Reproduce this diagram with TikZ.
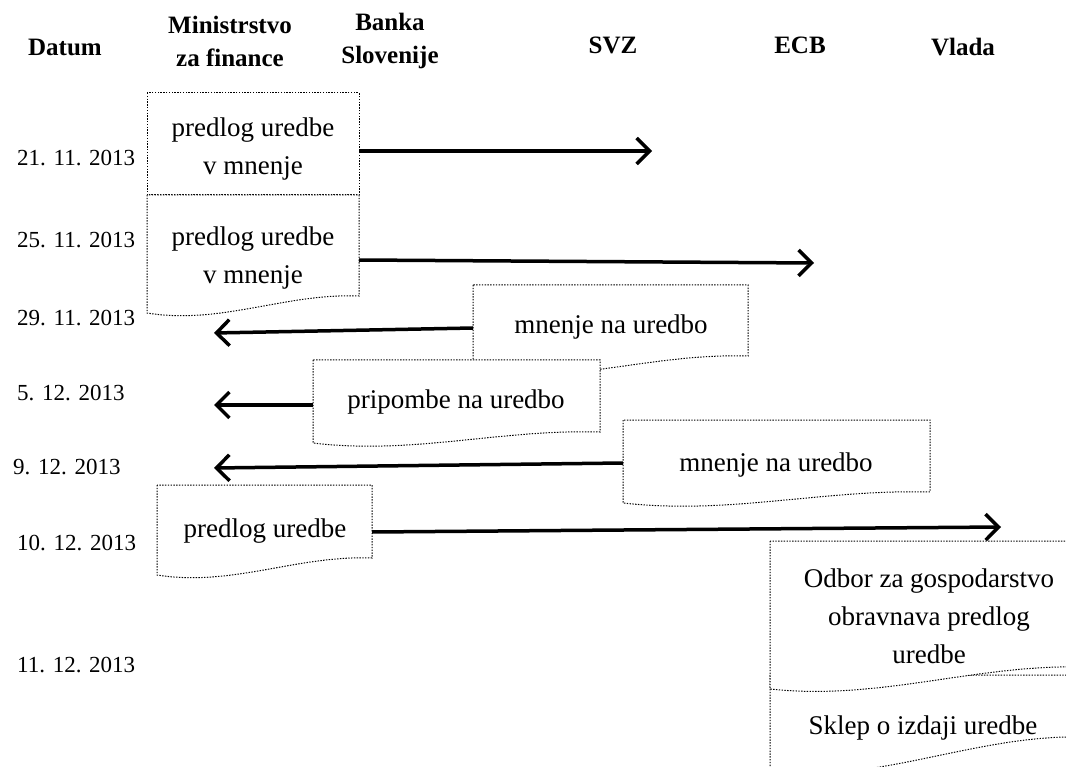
\documentclass[tikz,border=0pt]{standalone}
\usepackage{fontspec}
\setmainfont{Liberation Serif}
\usetikzlibrary{arrows.meta}
\newcommand\docshape[5]{%
  \draw[outl] (#1,#2) -- (#1,#4) .. controls ({#1+0.35*(#3-#1)},{#4+12}) and ({#1+0.65*(#3-#1)},{#5-3}) .. (#3,#5) -- (#3,#2) -- cycle;}
\begin{document}
\begin{tikzpicture}[x=1pt,y=-1pt,
  hdr/.style={font=\fontsize{25}{33}\selectfont\bfseries, align=center},
  datum/.style={font=\fontsize{23}{28}\selectfont, anchor=west, inner sep=0pt},
  txt/.style={font=\fontsize{27}{38}\selectfont, align=center, inner sep=0pt},
  outl/.style={draw=black, dash pattern=on 1.4pt off 1.4pt, line width=1pt, fill=white},
  arr/.style={line width=3.5pt, -{Straight Barb[length=13pt,width=26pt]}}]
\useasboundingbox (0,0) rectangle (1066,767);
\fill[white] (0,0) rectangle (1066,767);
% headers
\node[hdr] (hDatum) at (65,47) {Datum};
\node[hdr] (hMF) at (230,41) {Ministrstvo\\za finance};
\node[hdr] (hBS) at (390,41) {Banka\\Slovenije};
\node[hdr] (hSVZ) at (613,45) {SVZ};
\node[hdr] (hECB) at (800,45) {ECB};
\node[hdr] (hVlada) at (963,47) {Vlada};
% dates
\node[datum] (d1) at (17,158) {21. 11. 2013};
\node[datum] (d2) at (17,240) {25. 11. 2013};
\node[datum] (d3) at (17,318) {29. 11. 2013};
\node[datum] (d4) at (17,393) {5. 12. 2013};
\node[datum] (d5) at (13,467) {9. 12. 2013};
\node[datum] (d6) at (17,543) {10. 12. 2013};
\node[datum] (d7) at (17,665) {11. 12. 2013};
% boxes
\draw[outl] (147,93) rectangle (359,195);
\docshape{147}{195}{359}{313}{296}
\docshape{473}{285}{748}{373}{356}
\docshape{313}{360}{600}{443}{432}
\docshape{623}{420}{930}{503}{492}
\docshape{157}{485}{372}{575}{558}
\docshape{770}{675}{1085}{772}{737}
\docshape{770}{541}{1085}{689}{667}
% texts
\node[txt] (t1) at (253,149) {predlog uredbe\\v mnenje};
\node[txt] (t2) at (253,258) {predlog uredbe\\v mnenje};
\node[txt] (t3) at (611,327) {mnenje na uredbo};
\node[txt] (t4) at (456,402) {pripombe na uredbo};
\node[txt] (t5) at (776,465) {mnenje na uredbo};
\node[txt] (t6) at (265,531) {predlog uredbe};
\node[txt] (t7) at (929,616) {Odbor za gospodarstvo\\obravnava predlog\\uredbe};
\node[txt] (t8) at (923,728) {Sklep o izdaji uredbe};
% arrow ends
\coordinate (a1s) at (359,151); \coordinate (a1e) at (652,151);
\coordinate (a2s) at (359,260); \coordinate (a2e) at (814,263);
\coordinate (a3s) at (473,328); \coordinate (a3e) at (214,333);
\coordinate (a4s) at (313,405); \coordinate (a4e) at (214,405);
\coordinate (a5s) at (623,463); \coordinate (a5e) at (214,468);
\coordinate (a6s) at (372,532); \coordinate (a6e) at (1001,527);
\draw[arr] (a1s) -- (a1e);
\draw[arr] (a2s) -- (a2e);
\draw[arr] (a3s) -- (a3e);
\draw[arr] (a4s) -- (a4e);
\draw[arr] (a5s) -- (a5e);
\draw[arr] (a6s) -- (a6e);
\end{tikzpicture}
\end{document}
